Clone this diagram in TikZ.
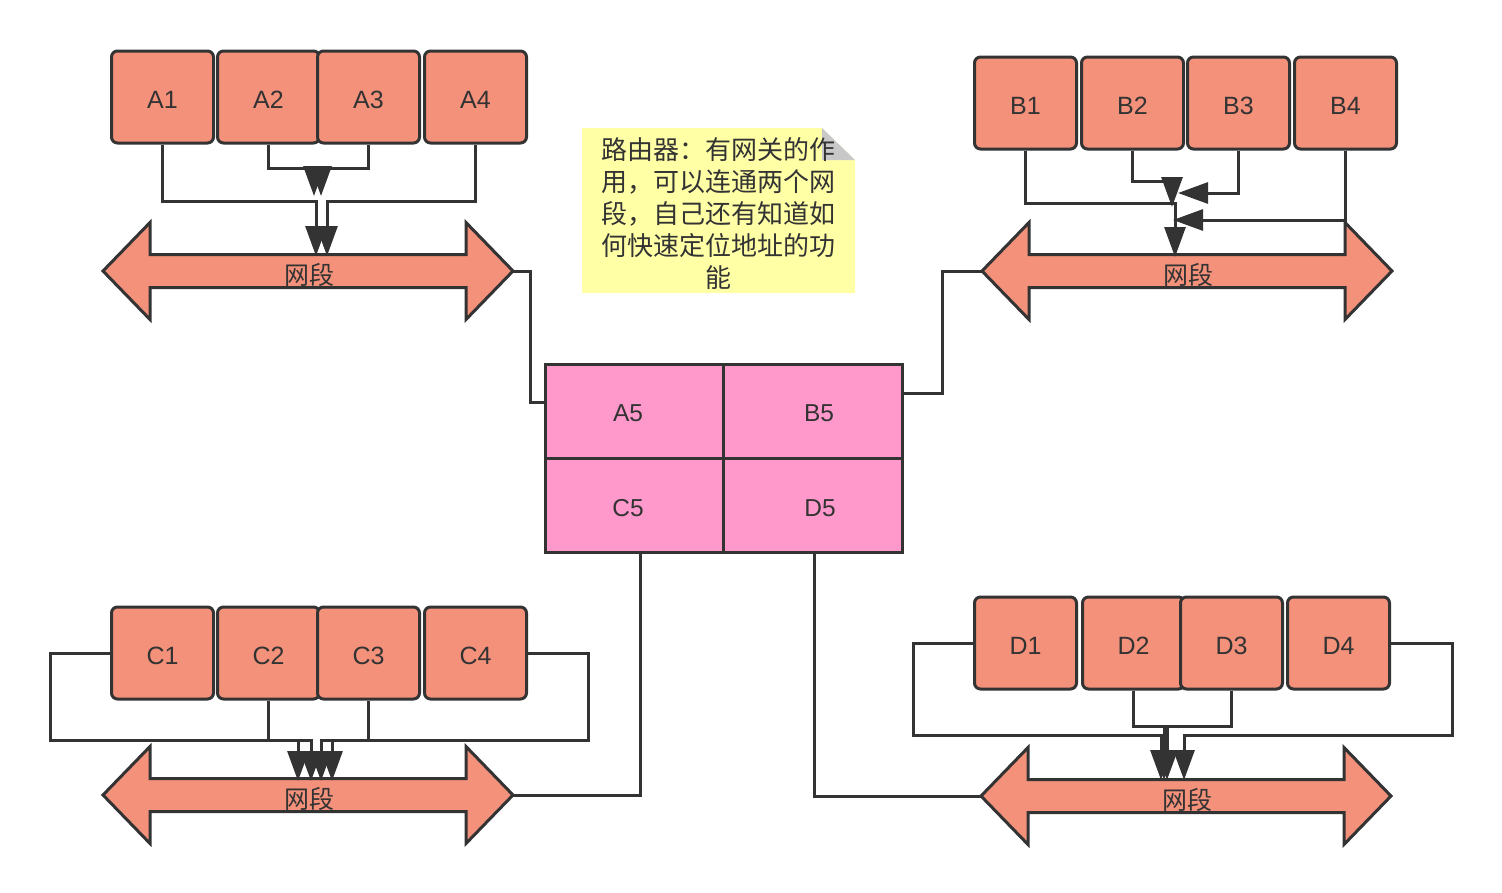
\documentclass[tikz,border=0pt]{standalone}
\usepackage{fontspec}
\setmainfont{Liberation Sans}
\newfontfamily\cjk{Noto Sans CJK SC}
\usetikzlibrary{arrows.meta,calc}
\definecolor{edge}{HTML}{333333}
\definecolor{salmon}{HTML}{F4917B}
\definecolor{routerpink}{HTML}{FF99CC}
\definecolor{noteyellow}{HTML}{FFFFA6}
\definecolor{foldgray}{HTML}{C8C8C8}
\newcommand\netseg[3]{%
  \draw[seg] (#2,#3) -- ++(47,-48.5) -- ++(0,32) -- ++(316,0) -- ++(0,-32)
    -- ++(47,48.5) -- ++(-47,48.5) -- ++(0,-32) -- ++(-316,0) -- ++(0,32) -- cycle;
  \coordinate (#1L) at (#2,#3);
  \coordinate (#1R) at ($(#2,#3)+(410,0)$);
  \node[segtext] (#1) at ($(#2,#3)+(206,4)$) {网段};
}
\begin{document}
\begin{tikzpicture}[x=1pt,y=-1pt,
  box/.style={draw=edge, line width=3pt, fill=salmon, rounded corners=6pt,
    minimum width=102pt, minimum height=92pt, inner sep=0pt, text=edge,
    text height=22pt, text depth=0pt,
    font=\fontsize{25}{25}\selectfont},
  cell/.style={draw=edge, line width=3pt, fill=routerpink, inner sep=0pt},
  celltext/.style={text=edge, font=\fontsize{24.5}{24.5}\selectfont, inner sep=0pt},
  conn/.style={draw=edge, line width=3pt, line join=miter,
    -{Triangle[length=30pt,width=21pt]}},
  link/.style={draw=edge, line width=3pt},
  seg/.style={draw=edge, line width=3pt, fill=salmon, line join=miter},
  segtext/.style={text=edge, font=\cjk\fontsize{25}{25}\selectfont, inner sep=0pt},
  notetext/.style={text=edge, font=\cjk\fontsize{26}{32}\selectfont, align=center, inner sep=0pt},
]
\useasboundingbox (0,0) rectangle (1502,892);

% network segments
\netseg{segA}{103}{271}
\netseg{segB}{982}{271}
\netseg{segC}{103}{795}
\netseg{segD}{981}{796}

% note
\fill[noteyellow] (582,128) -- (822,128) -- (855,160) -- (855,293) -- (582,293) -- cycle;
\fill[foldgray] (822,128) -- (822,160) -- (855,160) -- cycle;
\node[notetext] (note) at (718.5,214) {路由器：有网关的作\\用，可以连通两个网\\段，自己还有知道如\\何快速定位地址的功\\能};

% router
\node[cell, minimum width=178.5pt, minimum height=94pt] (A5) at (634.5,411) {};
\node[cell, minimum width=178.5pt, minimum height=94pt] (B5) at (813,411) {};
\node[cell, minimum width=178.5pt, minimum height=94pt] (C5) at (634.5,505) {};
\node[cell, minimum width=178.5pt, minimum height=94pt] (D5) at (813,505) {};
\node[celltext] (tA5) at (628,413) {A5};
\node[celltext] (tB5) at (819,413) {B5};
\node[celltext] (tC5) at (628,508) {C5};
\node[celltext] (tD5) at (820,508) {D5};

% A boxes
\node[box] (A1) at (162.5,97) {A1};
\node[box] (A2) at (268.5,97) {A2};
\node[box] (A3) at (368.5,97) {A3};
\node[box] (A4) at (475.5,97) {A4};
% B boxes
\node[box] (B1) at (1025.5,103) {B1};
\node[box] (B2) at (1132.5,103) {B2};
\node[box] (B3) at (1238.5,103) {B3};
\node[box] (B4) at (1345.5,103) {B4};
% C boxes
\node[box] (C1) at (162.5,653) {C1};
\node[box] (C2) at (268.5,653) {C2};
\node[box] (C3) at (368.5,653) {C3};
\node[box] (C4) at (475.5,653) {C4};
% D boxes
\node[box] (D1) at (1025.5,643) {D1};
\node[box] (D2) at (1133.5,643) {D2};
\node[box] (D3) at (1231.5,643) {D3};
\node[box] (D4) at (1338.5,643) {D4};

% arrow end coordinates
\coordinate (a1end) at (316,256);
\coordinate (a4end) at (327,256);
\coordinate (a2end) at (314,196);
\coordinate (a3end) at (321,196);
\coordinate (b1end) at (1175,257);
\coordinate (b2end) at (1172,207);
\coordinate (b3end) at (1178,193);
\coordinate (b4end) at (1173,220);
\coordinate (c1end) at (298,781);
\coordinate (c2end) at (311,781);
\coordinate (c3end) at (321,781);
\coordinate (c4end) at (332,781);
\coordinate (d1end) at (1161,780);
\coordinate (d2end) at (1164,780);
\coordinate (d3end) at (1167,780);
\coordinate (d4end) at (1184,780);

% A connectors
\draw[conn] (A1.south) -- (A1.south |- 0,201) -| (a1end);
\draw[conn] (A4.south) -- (A4.south |- 0,201) -| (a4end);
\draw[conn] (A2.south) -- (A2.south |- 0,168) -| (a2end);
\draw[conn] (A3.south) -- (A3.south |- 0,168) -| (a3end);
% B connectors
\draw[conn] (B1.south) -- (B1.south |- 0,203) -| (b1end);
\draw[conn] (B2.south) -- (B2.south |- 0,181) -| (b2end);
\draw[conn] (B3.south) |- (b3end);
\draw[conn] (B4.south) |- (b4end);
% C connectors
\draw[conn] (C1.west) -| (50,740) -| (c1end);
\draw[conn] (C2.south) -- (C2.south |- 0,740) -| (c2end);
\draw[conn] (C3.south) -- (C3.south |- 0,740) -| (c3end);
\draw[conn] (C4.east) -| (588,740) -| (c4end);
% D connectors
\draw[conn] (D1.west) -| (913,735) -| (d1end);
\draw[conn] (D2.south) -- (D2.south |- 0,726) -| (d2end);
\draw[conn] (D3.south) -- (D3.south |- 0,726) -| (d3end);
\draw[conn] (D4.east) -| (1452,735) -| (d4end);

% segments to router
\draw[link] (segAR) -- (530,271) |- ([yshift=9pt]A5.west);
\draw[link] (segBL) -- (942,271) |- ([yshift=18pt]B5.east);
\draw[link] (segCR) -| ([xshift=5.5pt]C5.south);
\draw[link] (segDL) -| ([xshift=1pt]D5.south);
\end{tikzpicture}
\end{document}
